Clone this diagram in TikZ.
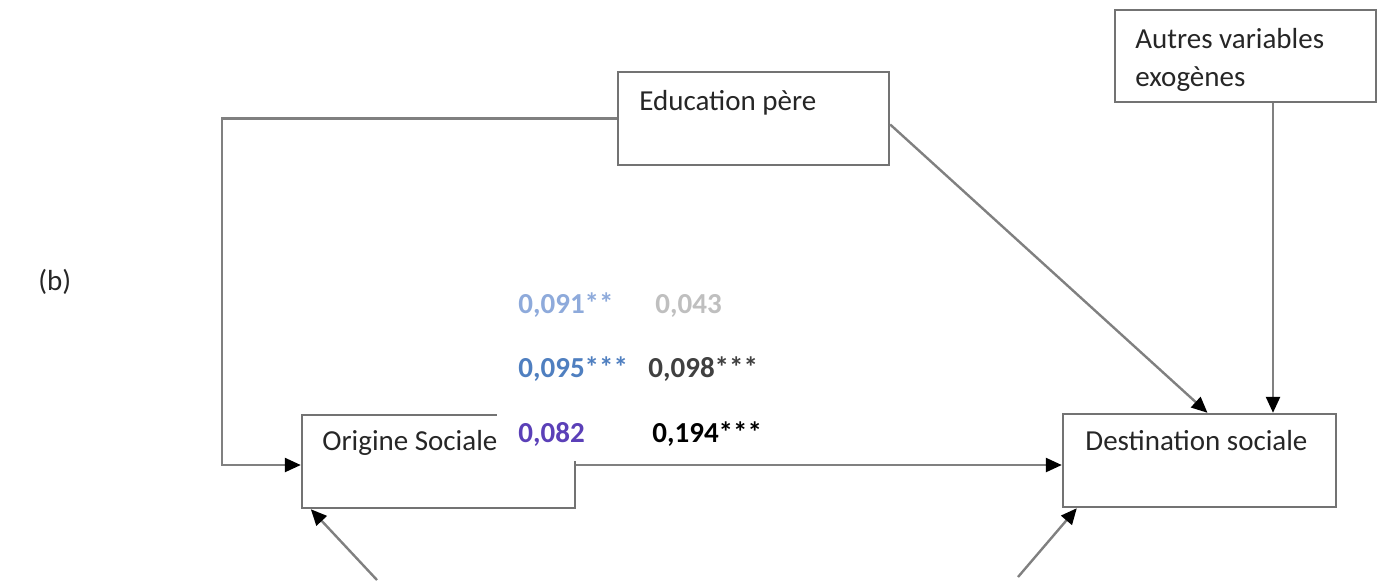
\documentclass[tikz,border=0pt]{standalone}
\usepackage{fontspec}
\setmainfont{Carlito}
\usetikzlibrary{arrows.meta,fit,calc}
\definecolor{coefpale}{HTML}{8EAADB}
\definecolor{coefgrey}{HTML}{BFBFBF}
\definecolor{coefblue}{HTML}{4F7FC0}
\definecolor{coefdark}{HTML}{404040}
\definecolor{coefviolet}{HTML}{5B40B8}

\begin{document}
\begin{tikzpicture}[x=0.5pt,y=-0.5pt,
    font=\fontsize{14.5}{19}\selectfont,
    var_box/.style={
           rectangle,
           draw=black!55,
           line width=1.2pt,
           inner sep=0pt},
    box_text/.style={inner sep=0pt,anchor=base west,text=black!85},
    coef/.style={inner sep=0pt,anchor=base west,
           font=\fontsize{14.5}{18}\selectfont\bfseries},
    link_arrow/.style={
           -{Triangle[length=8pt,width=7pt,color=black]},
           draw=black!50,
           line width=1.2pt}]

  \useasboundingbox (0,0) rectangle (1384,586);

  \path (38,282) node(lab) [box_text,anchor=west] {(b)};

  % the four variables
  \node (edu) [var_box,fit={(618,72) (889,165)}] {};
  \node (aut) [var_box,fit={(1115,10) (1376,102)}] {};
  \node (orig) [var_box,fit={(302,415) (575,508)}] {};
  \node (dest) [var_box,fit={(1063,414) (1336,507)}] {};

  \path (639,110) node(edut) [box_text] {Education père}
  (1135,28) node(autt) [box_text,anchor=north west,align=left] {Autres variables\\exogènes}
  (322,450) node(origt) [box_text] {Origine Sociale}
  (1085,450) node(destt) [box_text] {Destination sociale};

  % white block with the coefficients
  \node (cover) [fill=white,inner sep=0pt,fit={(497,285) (790,461)}] {};
  \path (518,313) node(c1) [coef,text=coefpale] {0,091**}
  (655,313) node(c2) [coef,text=coefgrey] {0,043}
  (518,377) node(c3) [coef,text=coefblue] {0,095***}
  (648,377) node(c4) [coef,text=coefdark] {0,098***}
  (518,442) node(c5) [coef,text=coefviolet] {0,082}
  (652,442) node(c6) [coef,text=black] {0,194***};

  \coordinate (loop) at (222,465);
  \coordinate (oin) at (377,580);
  \coordinate (din) at (1018,577);

  \draw[link_arrow] (edu.west) -| (loop) -- (loop -| orig.west);
  \draw[link_arrow] (orig.east |- loop) -- (dest.west |- loop);
  \draw[link_arrow] ([yshift=-3pt]edu.east) -- ([xshift=4pt]dest.north);
  \draw[link_arrow] ([xshift=13.75pt]aut.south) -- ([xshift=13.75pt]aut.south |- dest.north);
  \draw[link_arrow] (oin) -- ([xshift=5pt]orig.south west);
  \draw[link_arrow] (din) -- ([xshift=7.5pt]dest.south west);

\end{tikzpicture}
\end{document}
